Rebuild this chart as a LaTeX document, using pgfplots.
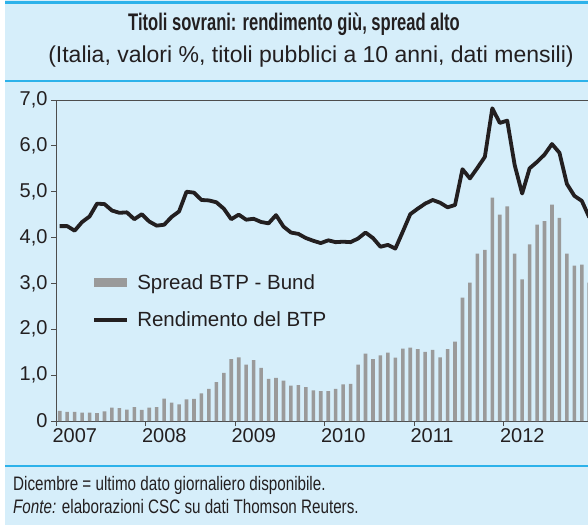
\documentclass[border=0pt]{standalone}
\usepackage{pgfplots}
\pgfplotsset{compat=1.18}
\usepackage{fontspec}
\setmainfont{Liberation Sans}
\newfontfamily\titlefont[FakeStretch=0.69]{Liberation Sans}
\newfontfamily\footfont[FakeStretch=0.78]{Liberation Sans}
\definecolor{bg}{HTML}{D6EEFA}
\definecolor{rulec}{HTML}{2DB2EA}
\definecolor{barc}{HTML}{9A9A9A}
\definecolor{linec}{HTML}{231F20}
\definecolor{axc}{HTML}{4D4D4D}
\begin{document}
\begin{tikzpicture}[x=1pt,y=1pt]
\fill[white] (0,0) rectangle (588,525);
\fill[bg] (5,0) rectangle (588,525);
\draw[rulec, line width=2.2pt] (5,522.5) -- (588,522.5);
\draw[rulec, line width=2pt] (5,444) -- (588,444);
\draw[rulec, line width=2pt] (5,59) -- (588,59);
\node[anchor=base, inner sep=0pt, font=\titlefont\bfseries\fontsize{24}{28}\selectfont, text=linec] at (294,494) {Titoli sovrani: rendimento giù, spread alto};
\node[anchor=base, inner sep=0pt, font=\fontsize{23}{27}\selectfont, text=linec] at (311,462) {(Italia, valori \%, titoli pubblici a 10 anni, dati mensili)};
\node[anchor=base west, inner sep=0pt, font=\footfont\fontsize{19.5}{23}\selectfont, text=linec] at (13,35) {Dicembre = ultimo dato giornaliero disponibile.};
\node[anchor=base west, inner sep=0pt, font=\footfont\fontsize{19.5}{23}\selectfont, text=linec] at (13,12) {\textit{Fonte:} elaborazioni CSC su dati Thomson Reuters.};
\begin{scope}
\clip (0,0) rectangle (588,525);
\begin{axis}[
  at={(56pt,104pt)}, anchor=south west,
  scale only axis, width=537pt, height=321pt,
  xmin=0, xmax=72, ymin=0, ymax=7,
  axis line style={axc, line width=0.8pt},
  xtick={0,12,24,36,48,60},
  xticklabels={2007,2008,2009,2010,2011,2012},
  ytick={0,1,2,3,4,5,6,7},
  yticklabels={0,{1,0},{2,0},{3,0},{4,0},{5,0},{6,0},{7,0}},
  xtick pos=bottom, ytick pos=left,
  tick align=outside, major tick length=5pt,
  tick style={axc, line width=0.8pt},
  ticklabel style={font=\fontsize{20}{24}\selectfont, text=linec},
  xticklabel style={anchor=north west, xshift=-7pt, yshift=1pt},
  /pgf/number format/assume math mode=true,
  legend style={at={(0.0676,0.372)}, anchor=west, draw=none, fill=none,
    font=\fontsize{20.5}{24}\selectfont, row sep=17pt, inner sep=0pt,
    cells={anchor=west}, text=linec,
    /tikz/every odd column/.append style={column sep=6pt}},
]
\addplot[ybar, bar width=3.6pt, fill=barc, draw=none,
  legend image code/.code={\fill[barc] (0pt,-4.5pt) rectangle (33pt,4.5pt);}]
coordinates {
(0.5,0.22)(1.5,0.20)(2.5,0.20)(3.5,0.18)(4.5,0.18)(5.5,0.17)(6.5,0.21)(7.5,0.29)(8.5,0.28)(9.5,0.25)(10.5,0.30)(11.5,0.24)
(12.5,0.29)(13.5,0.30)(14.5,0.49)(15.5,0.40)(16.5,0.36)(17.5,0.47)(18.5,0.48)(19.5,0.60)(20.5,0.70)(21.5,0.85)(22.5,1.05)(23.5,1.35)
(24.5,1.39)(25.5,1.23)(26.5,1.33)(27.5,1.16)(28.5,0.92)(29.5,0.94)(30.5,0.88)(31.5,0.77)(32.5,0.78)(33.5,0.74)(34.5,0.67)(35.5,0.65)
(36.5,0.65)(37.5,0.70)(38.5,0.80)(39.5,0.81)(40.5,1.23)(41.5,1.47)(42.5,1.35)(43.5,1.43)(44.5,1.49)(45.5,1.38)(46.5,1.58)(47.5,1.60)
(48.5,1.57)(49.5,1.51)(50.5,1.55)(51.5,1.39)(52.5,1.57)(53.5,1.73)(54.5,2.69)(55.5,3.02)(56.5,3.65)(57.5,3.73)(58.5,4.87)(59.5,4.50)
(60.5,4.68)(61.5,3.65)(62.5,3.09)(63.5,3.85)(64.5,4.28)(65.5,4.36)(66.5,4.72)(67.5,4.43)(68.5,3.65)(69.5,3.39)(70.5,3.41)(71.5,3.02)
};
\addlegendentry{Spread BTP - Bund}
\addplot[linec, line width=3.8pt, line join=round, no marks,
  legend image code/.code={\draw[linec, line width=3.8pt] (0pt,0pt) -- (33pt,0pt);}]
coordinates {
(0.5,4.25)(1.5,4.25)(2.5,4.15)(3.5,4.34)(4.5,4.46)(5.5,4.74)(6.5,4.73)(7.5,4.59)(8.5,4.54)(9.5,4.55)(10.5,4.40)(11.5,4.51)
(12.5,4.35)(13.5,4.26)(14.5,4.28)(15.5,4.45)(16.5,4.57)(17.5,5.00)(18.5,4.98)(19.5,4.82)(20.5,4.81)(21.5,4.77)(22.5,4.63)(23.5,4.40)
(24.5,4.50)(25.5,4.39)(26.5,4.41)(27.5,4.34)(28.5,4.31)(29.5,4.49)(30.5,4.24)(31.5,4.11)(32.5,4.08)(33.5,3.99)(34.5,3.93)(35.5,3.88)
(36.5,3.94)(37.5,3.90)(38.5,3.91)(39.5,3.90)(40.5,3.98)(41.5,4.11)(42.5,3.99)(43.5,3.80)(44.5,3.84)(45.5,3.76)(46.5,4.13)(47.5,4.51)
(48.5,4.63)(49.5,4.74)(50.5,4.82)(51.5,4.76)(52.5,4.66)(53.5,4.71)(54.5,5.49)(55.5,5.29)(56.5,5.52)(57.5,5.76)(58.5,6.82)(59.5,6.50)
(60.5,6.55)(61.5,5.58)(62.5,4.96)(63.5,5.51)(64.5,5.65)(65.5,5.81)(66.5,6.04)(67.5,5.85)(68.5,5.17)(69.5,4.91)(70.5,4.80)(71.5,4.44)
};
\addlegendentry{Rendimento del BTP}
\end{axis}
\end{scope}
\pgfresetboundingbox
\path[use as bounding box] (0,0) rectangle (588,525);
\end{tikzpicture}
\end{document}
